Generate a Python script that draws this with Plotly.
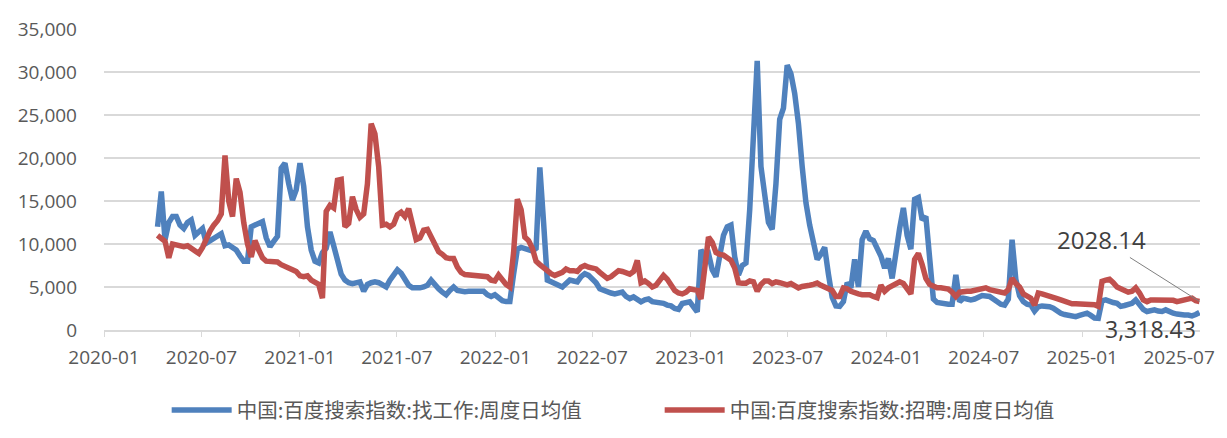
import pandas as pd
import plotly.graph_objects as go

# Weekly observations (Fridays), 2020-04-10 .. 2025-08-08
start_date = "2020-04-10"

job_search = [  # 中国:百度搜索指数:找工作:周度日均值
    12000, 16100, 10500, 12500, 13200, 13200, 12200, 11800, 12500, 12800,
    11000, 11500, 11800, 10100, 10400, 10700, 10900, 11200, 9800, 9900,
    9600, 9300, 8600, 8000, 8000, 12000, 12200, 12400, 12600, 10700,
    9700, 10300, 10900, 18800, 19400, 17000, 15100, 16300, 19400, 16700,
    12000, 9300, 8000, 7800, 9000, 9500, 11400, 9800, 7800, 6500,
    5800, 5500, 5400, 5500, 5600, 4500, 5300, 5500, 5600, 5500,
    5300, 5000, 5800, 6400, 7000, 6600, 6000, 5200, 4900, 4850,
    4900, 5000, 5200, 5800, 5200, 4800, 4400, 4100, 4600, 5000,
    4600, 4460, 4460, 4500, 4500, 4550, 4650, 4500, 4100, 3900,
    4100, 3700, 3400, 3300, 3300, 6500, 9400, 9600, 9500, 9400,
    9200, 9500, 18900, 12500, 5800, 5600, 5400, 5200, 5000, 5400,
    5800, 5700, 5600, 6200, 6550, 6350, 5900, 5500, 4800, 4600,
    4400, 4300, 4200, 4300, 4400, 3900, 3650, 3850, 3500, 3270,
    3500, 3600, 3300, 3270, 3270, 3100, 2900, 2800, 2500, 2400,
    3080, 3200, 3270, 2700, 2100, 9300, 8600, 8900, 7000, 6200,
    9000, 11000, 12000, 12200, 8500, 6400, 7500, 7800, 14000, 24500,
    31300, 19000, 15800, 12500, 11700, 17000, 24500, 25800, 30800, 29800,
    27500, 24000, 19000, 14800, 12200, 10000, 8200, 8800, 9600, 6500,
    3800, 2800, 2750, 3300, 5500, 4900, 8200, 5000, 10500, 11500,
    10600, 10400, 9500, 8600, 7200, 8300, 6000, 9500, 11800, 14200,
    11000, 9400, 15200, 15400, 12800, 13200, 7500, 3600, 3200, 3100,
    3100, 3000, 3000, 6400, 3300, 3700, 3600, 3500, 3600, 3800,
    4000, 3950, 3900, 3600, 3300, 3000, 2900, 3600, 10500, 5900,
    4000, 3300, 3000, 2900, 2200, 2700, 2800, 2800, 2700, 2540,
    2200, 1950, 1800, 1700, 1600, 1560, 1700, 1800, 1950, 1700,
    1400, 1370, 3400, 3500, 3300, 3200, 3100, 2750, 2850, 2900,
    3100, 3500, 2800, 2400, 2150, 2250, 2340, 2200, 2150, 2340,
    2100, 1950, 1850, 1750, 1750, 1750, 1650, 1800, 2028.14,
]

recruit = [  # 中国:百度搜索指数:招聘:周度日均值
    11000, 10700, 10300, 8400, 10000, 9900, 9800, 9700, 9800, 9500,
    9200, 8900, 9600, 10600, 11500, 12200, 12700, 13500, 20300, 15000,
    13200, 17600, 16000, 12500, 10000, 8500, 10400, 9300, 8400, 8000,
    7950, 8000, 7900, 7600, 7450, 7300, 7000, 6800, 6300, 6200,
    6300, 5800, 5500, 5300, 3700, 13800, 14500, 14200, 17400, 17500,
    12000, 12400, 15500, 14000, 13100, 13500, 17000, 24000, 22800, 19000,
    12200, 12300, 12000, 12300, 13400, 13700, 13200, 14100, 12300, 10500,
    10700, 11600, 11700, 10700, 9700, 9100, 8800, 8400, 8300, 8300,
    7300, 6700, 6450, 6400, 6400, 6350, 6300, 6250, 6200, 5800,
    5700, 6400, 5800, 5300, 5000, 9000, 15200, 14000, 10800, 10400,
    9500, 8000, 7600, 7200, 6800, 6550, 6350, 6500, 6700, 7100,
    6900, 6900, 6800, 7300, 7500, 7300, 7200, 7100, 6700, 6350,
    6000, 6200, 6600, 6900, 6800, 6700, 6500, 6800, 8100, 5500,
    5700, 5400, 5000, 5200, 5800, 6350, 5900, 5100, 4600, 4300,
    4200, 4400, 4800, 4700, 4600, 3600, 7500, 10800, 10200, 9000,
    8800, 8700, 8400, 8100, 7200, 5500, 5450, 5450, 5700, 5600,
    4500, 5300, 5700, 5700, 5400, 5600, 5500, 5400, 5250, 5400,
    5100, 4900, 5060, 5060, 5200, 5300, 5450, 5200, 5000, 4900,
    4600, 3900, 3900, 4900, 4800, 4500, 4300, 4200, 4100, 4100,
    4100, 3900, 3750, 5200, 4500, 4900, 5150, 5270, 5600, 5400,
    4700, 4200, 8200, 8900, 7600, 6000, 5300, 5100, 4900, 4900,
    4850, 4750, 4400, 3900, 4400, 4500, 4500, 4500, 4600, 4700,
    4800, 4900, 4700, 4600, 4500, 4400, 4300, 4700, 6000, 5400,
    5000, 4200, 3900, 3700, 2900, 4300, 4200, 4100, 4000, 3900,
    3650, 3500, 3300, 3150, 3050, 3040, 3040, 3040, 3040, 3000,
    2950, 2750, 5650, 5800, 5900, 5500, 5000, 4800, 4600, 4400,
    4500, 4900, 4300, 3500, 3300, 3500, 3500, 3500, 3500, 3500,
    3500, 3450, 3300, 3400, 3500, 3600, 3700, 3400, 3318.43,
]

name_job = "中国:百度搜索指数:找工作:周度日均值"
name_rec = "中国:百度搜索指数:招聘:周度日均值"

dates = pd.date_range(start=start_date, periods=len(job_search), freq="W-FRI")

BLUE = "#4F81BD"
RED = "#C0504D"
GRID = "#D9D9D9"
TXT = "#595959"

fig = go.Figure()
fig.add_trace(go.Scatter(x=dates, y=job_search, mode="lines", name=name_job,
                         line=dict(color=BLUE, width=5.5)))
fig.add_trace(go.Scatter(x=dates, y=recruit, mode="lines", name=name_rec,
                         line=dict(color=RED, width=5.5)))

# value labels at the end of the series (as in the reference)
fig.add_annotation(x=dates[-1], y=recruit[-1], text=f"{job_search[-1]:.2f}",
                   showarrow=True, arrowhead=0, arrowwidth=1, arrowcolor="#808080",
                   ax=-98, ay=-62, standoff=0,
                   font=dict(family="Open Sans", size=24, color="#404040"))
fig.add_annotation(x=dates[-1], y=job_search[-1], text=f"{recruit[-1]:,.2f}",
                   showarrow=False, xanchor="right", yanchor="middle",
                   xshift=-1, yshift=-16,
                   font=dict(family="Open Sans", size=23, color="#404040"))

# page body has an 8px margin, so the figure is drawn slightly smaller
fig.update_layout(
    width=1219, height=430,
    margin=dict(l=96, r=27, t=21, b=108, autoexpand=False),
    paper_bgcolor="white", plot_bgcolor="white",
    font=dict(family="Open Sans", size=19, color=TXT),
    showlegend=True,
    legend=dict(orientation="h", x=0.507, xanchor="center", y=-0.266, yanchor="middle",
                font=dict(family="Noto Sans CJK SC", size=20.5, color=TXT),
                itemwidth=60, entrywidth=418, bgcolor="rgba(0,0,0,0)"),
    xaxis=dict(type="date", range=["2020-01-01", "2025-08-09"],
               tick0="2020-01-01", dtick="M6", tickformat="%Y-%m",
               ticks="outside", ticklen=5, tickcolor=GRID, tickwidth=1,
               showline=True, linecolor=GRID, linewidth=1.5,
               showgrid=False, zeroline=False,
               tickfont=dict(family="Open Sans", size=19, color=TXT),
               ticklabelstandoff=4),
    yaxis=dict(range=[0, 35000], dtick=5000, tickformat=",",
               showgrid=True, gridcolor=GRID, gridwidth=1.5,
               zeroline=False, showline=False, ticks="",
               tickfont=dict(family="Open Sans", size=19, color=TXT),
               ticklabelstandoff=26),
)

fig.write_html("out.html")
